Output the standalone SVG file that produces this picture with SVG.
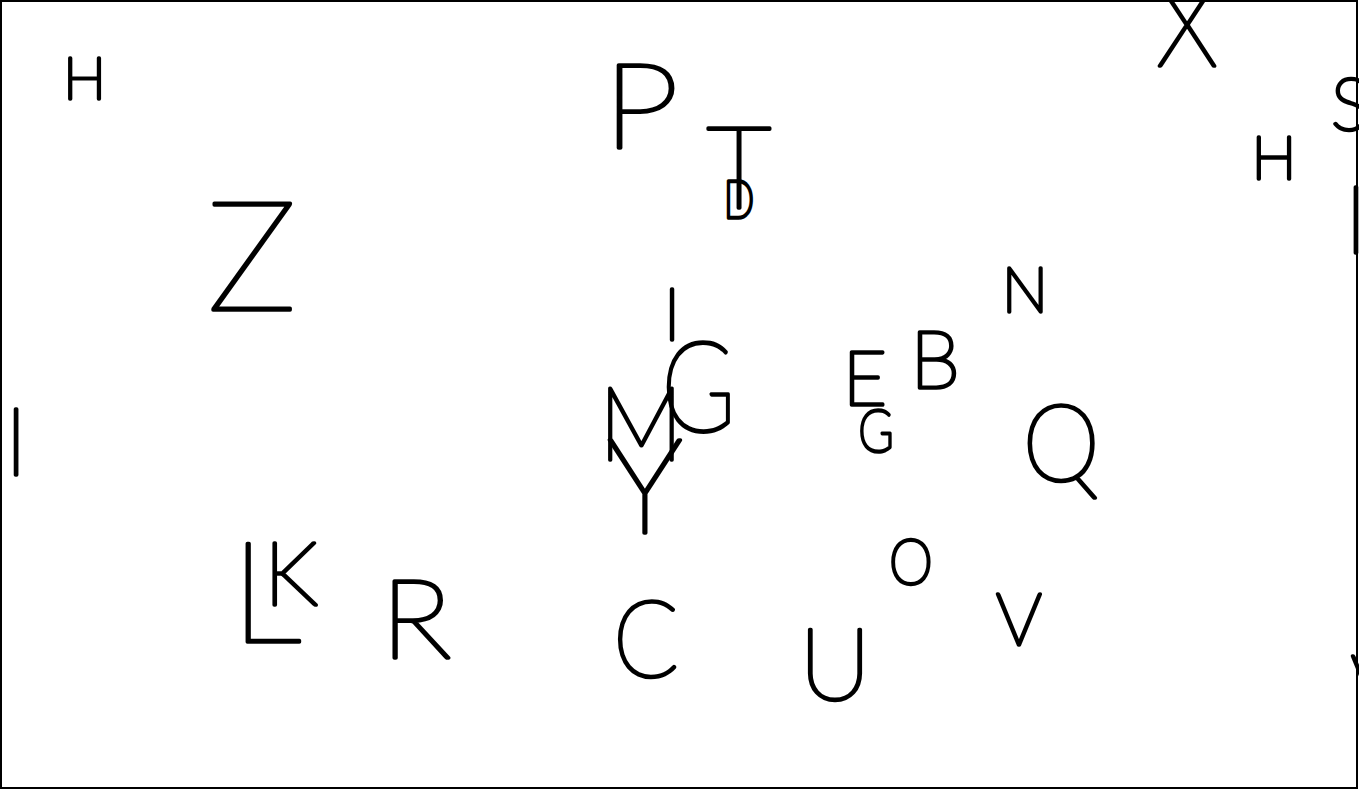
<svg xmlns="http://www.w3.org/2000/svg" width="1359" height="790" viewBox="0 0 1359 790">
<style>
text{font-family:Lato,"DejaVu Sans",sans-serif;font-weight:100;fill:#000;stroke:#000;stroke-width:3.6;stroke-linejoin:round;stroke-linecap:round;text-anchor:middle}
</style>
<rect x="1" y="1" width="1356" height="787" fill="#fff" stroke="#000" stroke-width="2"/>
<g id="letters">
<text x="84.5" y="99" font-size="57">H</text>
<text x="252" y="310" font-size="152">Z</text>
<text x="16" y="475" font-size="95">I</text>
<text x="641" y="148" font-size="118" transform="matrix(1.15 0 0 1 -96.2 0)">P</text>
<text x="739" y="208" font-size="114">T</text>
<text x="739" y="218" font-size="52" transform="matrix(0.78 0 0 1 162.6 0)">D</text>
<text x="1187" y="66" font-size="114" transform="matrix(0.9 0 0 1 118.7 0)">X</text>
<text x="1350" y="130" font-size="72">S</text>
<text x="1274" y="179" font-size="60">H</text>
<text x="1356" y="253" font-size="94">I</text>
<text x="1025" y="312" font-size="62">N</text>
<text x="672" y="340" font-size="72">I</text>
<text x="698.5" y="432" font-size="126" transform="matrix(0.8 0 0 1 139.7 0)">G</text>
<text x="641" y="460" font-size="103" transform="matrix(0.92 0 0 1 51.3 0)">M</text>
<text x="645" y="533" font-size="133">Y</text>
<text x="865" y="405" font-size="76">E</text>
<text x="935" y="388" font-size="80">B</text>
<text x="876" y="452" font-size="60" transform="matrix(0.8 0 0 1 175.2 0)">G</text>
<text x="1061" y="481" font-size="106" transform="matrix(0.93 0 0 1 74.3 0)">Q</text>
<text x="231" y="642" font-size="141" style="text-anchor:start">L</text>
<text x="291" y="605" font-size="88">K</text>
<text x="416" y="658" font-size="111" transform="matrix(1.08 0 0 1 -33.3 0)">R</text>
<text x="646" y="677" font-size="107" transform="matrix(0.9 0 0 1 64.6 0)">C</text>
<text x="911" y="584" font-size="62" transform="matrix(0.9 0 0 1 91.1 0)">O</text>
<text x="1019" y="645" font-size="72">V</text>
<text x="835" y="700" font-size="100">U</text>
<text x="1374" y="707" font-size="72">V</text>
</g>
</svg>
